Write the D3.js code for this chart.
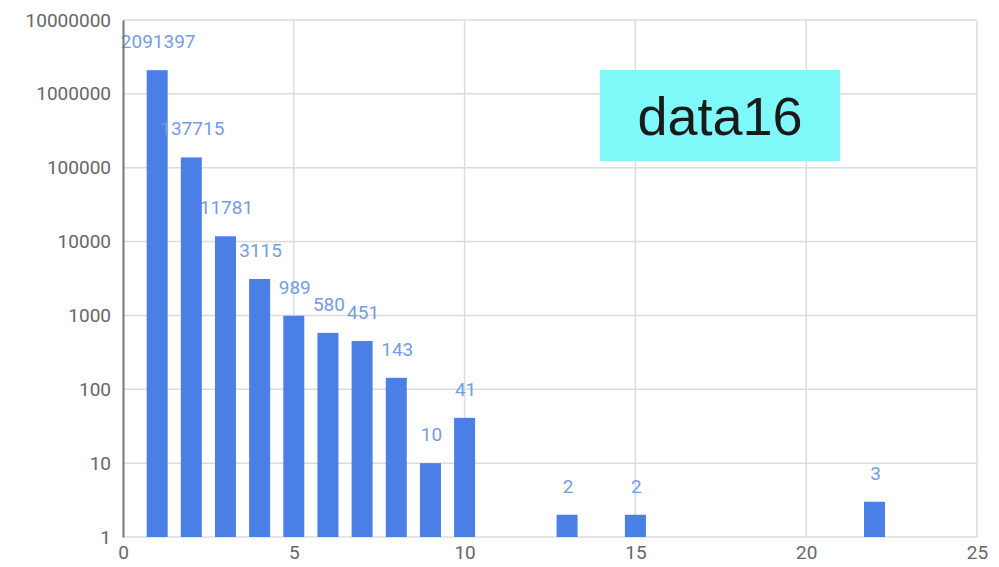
<!DOCTYPE html>
<html>
<head>
<meta charset="utf-8">
<script src="https://cdn.jsdelivr.net/npm/d3@7"></script>
<style>
  html, body { margin: 0; padding: 0; background: #fff; }
  svg { display: block; font-family: Roboto, "Noto Sans", Arial, sans-serif; }
</style>
</head>
<body>
<svg id="chart" width="999" height="567"></svg>
<script>
// Counts per bucket, plotted on a log scale
const buckets = [1, 2, 3, 4, 5, 6, 7, 8, 9, 10, 13, 15, 22];
const counts  = [2091397, 137715, 11781, 3115, 989, 580, 451, 143, 10, 41, 2, 2, 3];
const yTicks  = [1, 10, 100, 1000, 10000, 100000, 1000000, 10000000];
const xTicks  = [0, 5, 10, 15, 20, 25];
const badge   = "data16";

const svg = d3.select("#chart");
const margin = { left: 123, right: 22, top: 20, bottom: 30 };
const W = 999, H = 567;

const x = d3.scaleLinear().domain([0, 25]).range([margin.left, W - margin.right]);
const y = d3.scaleLog().domain([1, 10000000]).range([H - margin.bottom, margin.top]);

// grid
svg.append("g").selectAll("line.h").data(yTicks).join("line")
  .attr("x1", x(0)).attr("x2", x(25))
  .attr("y1", d => y(d)).attr("y2", d => y(d))
  .attr("stroke", "#dcdcdc").attr("stroke-width", 1.5);
svg.append("g").selectAll("line.v").data(xTicks.filter(d => d > 0)).join("line")
  .attr("x1", d => x(d)).attr("x2", d => x(d))
  .attr("y1", y(10000000)).attr("y2", y(1))
  .attr("stroke", "#dcdcdc").attr("stroke-width", 1.5);

// bars
const barW = 21;
svg.append("g").selectAll("rect").data(buckets).join("rect")
  .attr("x", (d) => x(d) - barW / 2)
  .attr("width", barW)
  .attr("y", (d, i) => y(counts[i]))
  .attr("height", (d, i) => y(1) - y(counts[i]))
  .attr("fill", "#4a7fe6");

// value labels
svg.append("g").selectAll("text").data(buckets).join("text")
  .attr("x", d => x(d) + 1)
  .attr("y", (d, i) => y(counts[i]) - 22)
  .attr("text-anchor", "middle")
  .attr("font-size", 19)
  .attr("fill", "#779be4")
  .text((d, i) => counts[i]);

// y axis
const yAxis = d3.axisLeft(y).tickValues(yTicks).tickFormat(d3.format("d")).tickSize(0).tickPadding(12);
const gy = svg.append("g").attr("transform", `translate(${x(0)},0)`).call(yAxis);
gy.select(".domain").attr("stroke", "#777").attr("stroke-width", 2);
gy.selectAll("text").attr("font-size", 19).attr("fill", "#666").attr("font-family", "Roboto, sans-serif");

// x axis
const xAxis = d3.axisBottom(x).tickValues(xTicks).tickSize(0).tickPadding(9);
const gx = svg.append("g").attr("transform", `translate(0,${y(1)})`).call(xAxis);
gx.select(".domain").remove();
gx.selectAll("text").attr("font-size", 19).attr("fill", "#666").attr("font-family", "Roboto, sans-serif");

// badge
const bx = 600, by = 70, bw = 240, bh = 91;
svg.append("rect").attr("x", bx).attr("y", by).attr("width", bw).attr("height", bh).attr("fill", "#7ff8fa");
svg.append("text").attr("x", bx + bw / 2).attr("y", by + bh / 2 + 19)
  .attr("text-anchor", "middle").attr("font-size", 54)
  .attr("font-family", "Liberation Sans, Arial, sans-serif")
  .attr("fill", "#1a1a1a").text(badge);
</script>
</body>
</html>
